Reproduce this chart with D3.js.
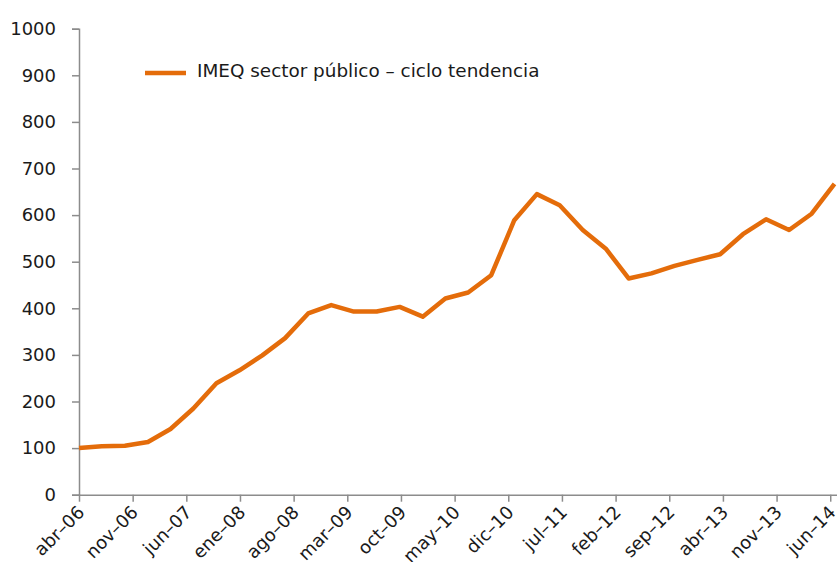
<!DOCTYPE html>
<html>
<head>
<meta charset="utf-8">
<script src="https://cdn.jsdelivr.net/npm/d3@7"></script>
<style>
  html, body { margin: 0; padding: 0; background: #fff; }
  svg { display: block; font-family: "DejaVu Sans", Verdana, sans-serif; }
</style>
</head>
<body>
<svg id="chart" width="837" height="562"></svg>
<script>
// ---- data ----
const seriesName = "IMEQ sector público – ciclo tendencia";
const quarters = [
  "2006-04","2006-07","2006-10","2007-01","2007-04","2007-07","2007-10","2008-01",
  "2008-04","2008-07","2008-10","2009-01","2009-04","2009-07","2009-10","2010-01",
  "2010-04","2010-07","2010-10","2011-01","2011-04","2011-07","2011-10","2012-01",
  "2012-04","2012-07","2012-10","2013-01","2013-04","2013-07","2013-10","2014-01",
  "2014-04","2014-07"
];
const values = [
  100, 104, 105, 113, 141, 185, 239, 267,
  299, 336, 389, 407, 393, 393, 403, 382,
  421, 434, 471, 589, 645, 621, 568, 528,
  464, 475, 491, 504, 516, 559, 591, 568,
  603, 667
];
const xTickLabels = ["abr–06","nov–06","jun–07","ene–08","ago–08","mar–09","oct–09","may–10",
                     "dic–10","jul–11","feb–12","sep–12","abr–13","nov–13","jun–14"];
const xTickStepDays = 214;
const yTicks = [0,100,200,300,400,500,600,700,800,900,1000];

(function () {
// ---- layout ----
const mLeft = 79, mRight = 837, mTop = 28.7, mBottom = 494.7;
const color = "#E46C0A";
const axisColor = "#8c8c8c";
const textColor = "#1a1a1a";

const parse = d3.timeParse("%Y-%m");
const data = quarters.map((q, i) => ({ date: parse(q), value: values[i] }));
const start = parse("2006-04");
const tickDates = xTickLabels.map((_, i) => d3.timeDay.offset(start, xTickStepDays * i));

const x = d3.scaleTime()
  .domain([start, d3.timeDay.offset(start, 3023)])
  .range([mLeft, mRight]);
const y = d3.scaleLinear().domain([0, 1000]).range([mBottom, mTop]);

const svg = d3.select("#chart");

// y axis
const yAxis = svg.append("g")
  .attr("transform", `translate(${mLeft},0)`)
  .call(d3.axisLeft(y).tickValues(yTicks).tickSize(7).tickPadding(16).tickFormat(d3.format("d")));
yAxis.select(".domain").attr("stroke", axisColor).attr("stroke-width", 1.5);
yAxis.selectAll(".tick line").attr("stroke", axisColor).attr("stroke-width", 1.5);
yAxis.selectAll(".tick text").attr("fill", textColor).attr("font-size", 18)
  .attr("font-family", "DejaVu Sans, sans-serif");

// x axis
const xAxis = svg.append("g")
  .attr("transform", `translate(0,${mBottom})`)
  .call(d3.axisBottom(x).tickValues(tickDates).tickSize(7).tickSizeOuter(0)
        .tickFormat((d, i) => xTickLabels[i]));
xAxis.select(".domain").attr("stroke", axisColor).attr("stroke-width", 1.5);
xAxis.selectAll(".tick line").attr("stroke", axisColor).attr("stroke-width", 1.5);
xAxis.selectAll(".tick text")
  .attr("fill", textColor).attr("font-size", 18)
  .attr("font-family", "DejaVu Sans, sans-serif")
  .attr("text-anchor", "end")
  .attr("x", -9).attr("y", 17.5).attr("dy", 0)
  .attr("transform", "rotate(-45)");

// line
const line = d3.line().x(d => x(d.date)).y(d => y(d.value));
svg.append("path")
  .datum(data)
  .attr("fill", "none")
  .attr("stroke", color)
  .attr("stroke-width", 4.5)
  .attr("stroke-linejoin", "round")
  .attr("d", line);

// legend
const lg = svg.append("g").attr("transform", "translate(145,73)");
lg.append("line").attr("x1", 0).attr("x2", 41).attr("y1", 0).attr("y2", 0)
  .attr("stroke", color).attr("stroke-width", 4.5);
lg.append("text").attr("x", 52).attr("y", 4.3)
  .attr("font-size", 18.4).attr("fill", textColor).text(seriesName);
})();
</script>
</body>
</html>
